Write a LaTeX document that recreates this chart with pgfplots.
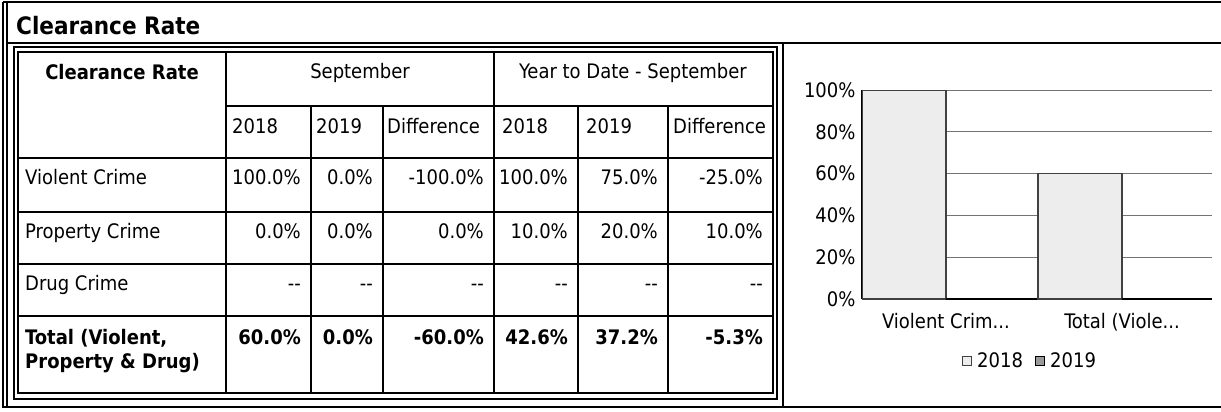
\documentclass[border=0pt]{standalone}
\usepackage{fontspec}
\setmainfont{DejaVu Sans Condensed}
\usepackage{pgfplots}
\pgfplotsset{compat=1.18}
\newcommand\tdots{...}

\begin{document}
\begin{tikzpicture}
\begin{scope}[x=1pt,y=-1pt,
  tx/.style={inner sep=0pt, font=\fontsize{20}{24}\selectfont},
  bx/.style={inner sep=0pt, font=\fontsize{20}{24}\selectfont\bfseries}]
\useasboundingbox (0,0) rectangle (1221,412);
% outer frames
\draw[line width=2] (3,2.5) -- (1221,2.5);
\draw[line width=1.5] (3,2) -- (3,408);
\draw[line width=1.5] (7,2) -- (7,408);
\draw[line width=2] (7,43) -- (1221,43);
\draw[line width=2] (3,407) -- (1221,407);
\draw[line width=2] (783,43) -- (783,407);
% title
\node[anchor=base west, inner sep=0pt, font=\fontsize{24}{28}\selectfont\bfseries] at (16,35) {Clearance Rate};
% table double frame
\draw[line width=1.5] (14,47) rectangle (777,399);
\draw[line width=2] (18,52) rectangle (773,393);
% table grid
\draw[line width=2] (226,106) -- (773,106);
\foreach \r in {158,212,264,316} \draw[line width=2] (18,\r) -- (773,\r);
\foreach \c in {226,494} \draw[line width=2] (\c,52) -- (\c,393);
\foreach \c in {311,383,578,668} \draw[line width=2] (\c,106) -- (\c,393);
% header
\node[bx, anchor=base] at (122,80) {Clearance Rate};
\node[tx, anchor=base] at (360,78) {September};
\node[tx, anchor=base] at (633,78) {Year to Date - September};
\node[tx, anchor=base west] at (232,133) {2018};
\node[tx, anchor=base west] at (316,133) {2019};
\node[tx, anchor=base west] at (387,133) {Difference};
\node[tx, anchor=base west] at (502,133) {2018};
\node[tx, anchor=base west] at (586,133) {2019};
\node[tx, anchor=base west] at (673,133) {Difference};
% row labels
\node[tx, anchor=base west] at (25,184) {Violent Crime};
\node[tx, anchor=base west] at (25,238) {Property Crime};
\node[tx, anchor=base west] at (25,290) {Drug Crime};
\node[bx, anchor=base west] at (25,344) {Total (Violent,};
\node[bx, anchor=base west] at (25,368) {Property \& Drug)};
% values
\foreach \x/\v in {301/100.0\%, 373/0.0\%, 484/-100.0\%, 568/100.0\%, 658/75.0\%, 763/-25.0\%}
  \node[tx, anchor=base east] at (\x,184) {\v};
\foreach \x/\v in {301/0.0\%, 373/0.0\%, 484/0.0\%, 568/10.0\%, 658/20.0\%, 763/10.0\%}
  \node[tx, anchor=base east] at (\x,238) {\v};
\foreach \x in {301,373,484,568,658,763}
  \node[tx, anchor=base east] at (\x,290) {-{}-};
\foreach \x/\v in {301/60.0\%, 373/0.0\%, 484/-60.0\%, 568/42.6\%, 658/37.2\%, 763/-5.3\%}
  \node[bx, anchor=base east] at (\x,344) {\v};
\end{scope}

\begin{axis}[
  at={(862pt,-299pt)}, anchor=south west,
  scale only axis, width=350pt, height=209pt,
  xmin=-0.477, xmax=1.511, ymin=0, ymax=100,
  ybar=0pt, bar width=84pt,
  xtick={0,1}, xticklabels={Violent Crim\tdots,Total (Viole\tdots},
  ytick={0,20,40,60,80,100}, yticklabels={0\%,20\%,40\%,60\%,80\%,100\%},
  ymajorgrids, major grid style={black!55, line width=1pt},
  axis lines*=left, axis line style={-, black, line width=1.5pt},
  tick style={draw=none},
  ticklabel style={font=\fontsize{20}{24}\selectfont},
  xticklabel style={yshift=-7pt},
  yticklabel style={xshift=-3pt},
  legend style={at={(0.48,-0.235)}, anchor=north, draw=none, legend columns=2,
    font=\fontsize{20}{24}\selectfont,
    /tikz/every odd column/.append style={column sep=3pt},
    /tikz/every even column/.append style={column sep=10pt}},
  legend image code/.code={\draw[#1] (0pt,-5pt) rectangle (9pt,4pt);},
]
\addplot[fill=black!7, draw=black!75, line width=1.2pt] coordinates {(0,100) (1,60)};
\addplot[fill=black!40, draw=black, line width=1.2pt] coordinates {(0,0) (1,0)};
\legend{2018,2019}
\end{axis}
\end{tikzpicture}
\end{document}
